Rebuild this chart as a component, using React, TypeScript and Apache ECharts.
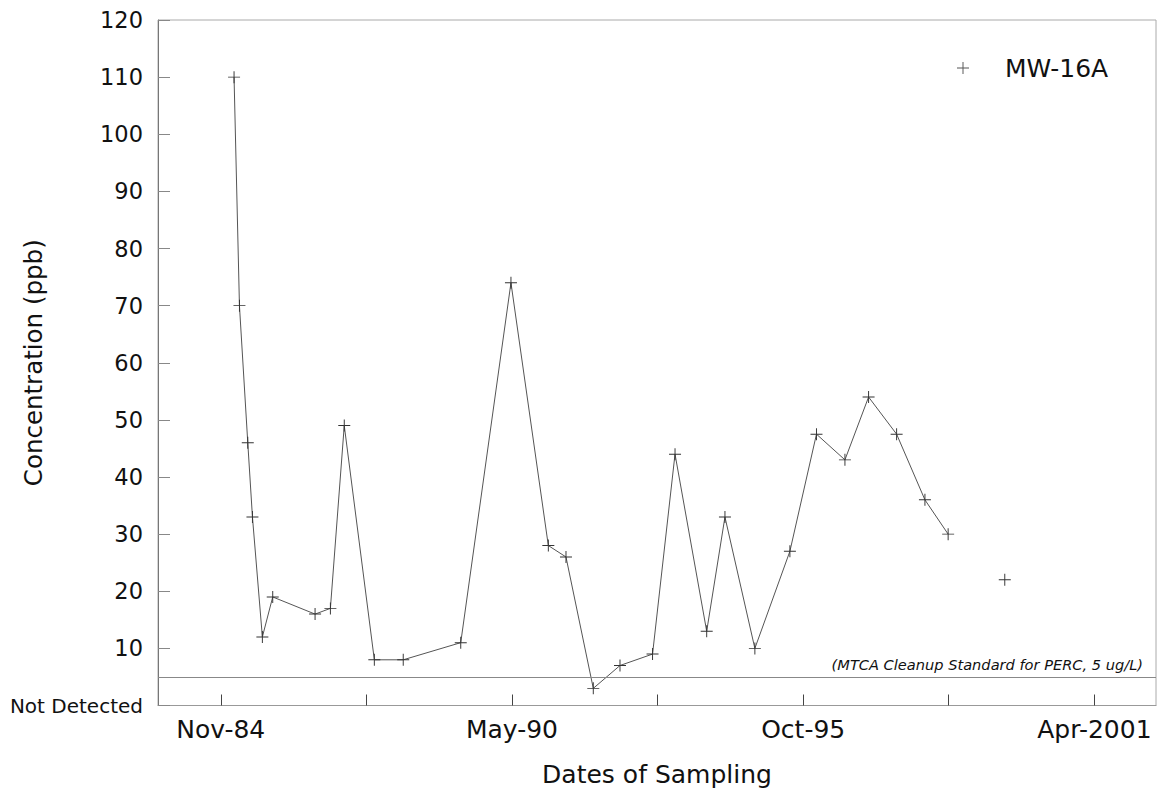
import React, { useEffect, useRef } from "react";
import * as echarts from "echarts";

// Sampling dates and PERC concentrations (ppb)
const sampleDates = [
  "1985-02-14", "1985-03-23", "1985-05-19", "1985-06-20", "1985-08-27",
  "1985-11-06", "1986-08-23", "1986-12-06", "1987-03-11", "1987-10-03",
  "1988-04-18", "1989-05-17", "1990-04-26", "1991-01-07", "1991-05-08",
  "1991-11-11", "1992-05-12", "1992-12-21", "1993-05-24", "1993-12-27",
  "1994-05-01", "1994-11-22", "1995-07-20", "1996-01-18", "1996-07-31",
  "1997-01-09", "1997-07-20", "1998-01-30", "1998-07-08", "1999-01-20",
  "1999-07-31",
];
const concentrations: (number | null)[] = [
  110, 70, 46, 33, 12,
  19, 16, 17, 49, 8,
  8, 11, 74, 28, 26,
  3, 7, 9, 44, 13,
  33, 10, 27, 47.5, 43,
  54, 47.5, 36, 30, null,
  22,
];

const majorTickDates = ["1984-11-15", "1990-05-03", "1995-10-19", "2001-04-05"];
const majorTickLabels = ["Nov-84", "May-90", "Oct-95", "Apr-2001"];
const minorTickDates = ["1987-08-09", "1993-01-25", "1998-07-12"];
const axisMinDate = "1983-09-12";
const axisMaxDate = "2002-06-01";

const yTickValues = [0, 10, 20, 30, 40, 50, 60, 70, 80, 90, 100, 110, 120];
const cleanupStandard = 5;
const cleanupLabel = "(MTCA Cleanup Standard for PERC, 5 ug/L)";
const seriesName = "MW-16A";

const FONT = "DejaVu Sans";
const CROSS = "path://M-0.08,-1H0.08V1H-0.08Z M-1,-0.08H1V0.08H-1Z";

// day number (days since 1970-01-01, UTC)
function dayNum(s: string): number {
  const [y, m, d] = s.split("-").map(Number);
  return Date.UTC(y, m - 1, d) / 86400000;
}

export default function App() {
  const ref = useRef<HTMLDivElement>(null);

  useEffect(() => {
    if (!ref.current) return;
    const chart = echarts.init(ref.current, undefined, { renderer: "svg" });
    const majorDays = majorTickDates.map(dayNum);
    const allTicks = [...majorTickDates, ...minorTickDates].map(dayNum).sort((a, b) => a - b);
    const data = sampleDates.map((d, i) => [
      dayNum(d),
      concentrations[i] === null ? "-" : concentrations[i],
    ]);

    chart.setOption({
      animation: false,
      backgroundColor: "#ffffff",
      textStyle: { fontFamily: FONT },
      grid: {
        left: 158,
        right: 5,
        top: 20,
        bottom: 88.5,
        show: true,
        borderColor: "#aaaaaa",
        borderWidth: 1,
        containLabel: false,
        outerBoundsMode: "none",
      },
      legend: {
        left: 957,
        top: 53,
        padding: 0,
        itemWidth: 12,
        itemHeight: 12,
        icon: CROSS,
        textStyle: {
          fontFamily: FONT,
          fontSize: 25,
          color: "#111111",
          lineHeight: 30,
          padding: [0, 0, 0, 31],
        },
        itemStyle: { color: "#555555" },
        data: [seriesName],
      },
      xAxis: {
        type: "value",
        min: dayNum(axisMinDate),
        max: dayNum(axisMaxDate),
        name: "Dates of Sampling",
        nameLocation: "middle",
        nameGap: 56,
        nameMoveOverlap: false,
        nameTextStyle: { fontFamily: FONT, fontSize: 25, color: "#111111" },
        axisLine: { show: true, lineStyle: { color: "#999999", width: 1 } },
        axisTick: {
          show: true,
          inside: true,
          length: 11,
          customValues: allTicks,
          lineStyle: { color: "#444444", width: 1 },
        },
        axisLabel: {
          customValues: majorDays,
          margin: 11,
          fontFamily: FONT,
          fontSize: 25,
          color: "#111111",
          formatter: (v: number) => {
            const i = majorDays.findIndex((t) => Math.abs(t - v) < 1);
            return i >= 0 ? majorTickLabels[i] : "";
          },
        },
        splitLine: { show: false },
      },
      yAxis: {
        type: "value",
        min: yTickValues[0],
        max: yTickValues[yTickValues.length - 1],
        interval: 10,
        name: "Concentration (ppb)",
        nameLocation: "middle",
        nameGap: 112,
        nameMoveOverlap: false,
        nameTextStyle: { fontFamily: FONT, fontSize: 24.5, color: "#111111" },
        axisLine: { show: true, lineStyle: { color: "#777777", width: 1 } },
        axisTick: { show: true, inside: true, length: 12, lineStyle: { color: "#888888", width: 1 } },
        axisLabel: {
          margin: 15,
          fontFamily: FONT,
          fontSize: 22.5,
          color: "#111111",
          formatter: (v: number) => (v === 0 ? "{nd|Not Detected}" : String(v)),
          rich: { nd: { fontFamily: FONT, fontSize: 20, color: "#111111" } },
        },
        splitLine: { show: false },
      },
      series: [
        {
          name: seriesName,
          type: "line",
          data,
          connectNulls: false,
          symbol: CROSS,
          symbolSize: 12,
          showAllSymbol: true,
          lineStyle: { color: "#555555", width: 1 },
          itemStyle: { color: "#333333" },
          markLine: {
            silent: true,
            symbol: ["none", "none"],
            lineStyle: { color: "#888888", width: 1, type: "solid" },
            label: {
              show: true,
              position: "insideEndTop",
              formatter: cleanupLabel,
              fontFamily: FONT,
              fontStyle: "italic",
              fontSize: 14.6,
              color: "#111111",
              distance: 5,
              padding: [0, 8, 0, 0],
            },
            data: [{ yAxis: cleanupStandard }],
          },
        },
      ],
    });
    return () => chart.dispose();
  }, []);

  return (
    <div
      ref={ref}
      style={{ position: "fixed", left: 0, top: 0, width: 1161, height: 794, background: "#fff" }}
    />
  );
}
